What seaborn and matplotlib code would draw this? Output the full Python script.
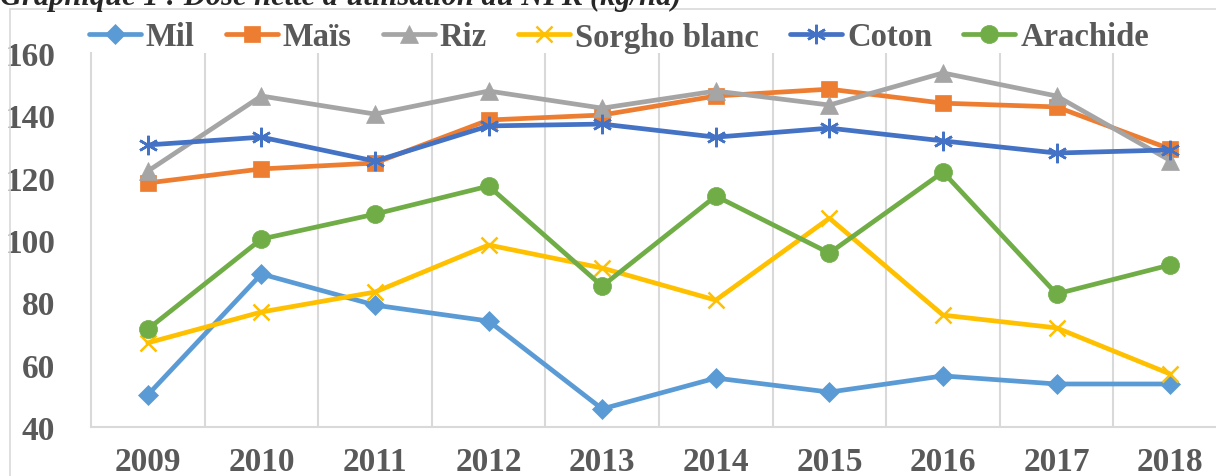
import pandas as pd
import numpy as np
import matplotlib
matplotlib.use("Agg")
import matplotlib.pyplot as plt
import matplotlib.patches as mpatches
import seaborn as sns

years = [2009, 2010, 2011, 2012, 2013, 2014, 2015, 2016, 2017, 2018]
mil = [50.3, 89.1, 79.1, 74.0, 45.8, 55.7, 51.2, 56.4, 53.8, 53.8]
mais = [118.3, 122.8, 124.7, 138.5, 140.1, 146.2, 148.4, 143.9, 142.7, 129.2]
riz = [122.1, 146.2, 140.4, 147.8, 142.3, 147.8, 143.3, 153.6, 146.2, 125.5]
sorgho = [67.0, 76.9, 83.3, 98.4, 91.0, 80.7, 107.0, 75.9, 71.8, 57.0]
coton = [130.5, 133.0, 125.3, 136.6, 137.2, 133.0, 135.9, 131.8, 127.9, 128.9]
arachide = [71.4, 100.3, 108.3, 117.3, 85.2, 114.1, 95.8, 121.8, 82.7, 92.0]

series = ["Mil", "Maïs", "Riz", "Sorgho blanc", "Coton", "Arachide"]
values = [mil, mais, riz, sorgho, coton, arachide]
colors = ["#5B9BD5", "#ED7D31", "#A5A5A5", "#FFC000", "#4472C4", "#70AD47"]
markers = ["D", "s", "^", "x", (6, 2, 0), "o"]
msizes = [10, 11, 13, 12, 14, 13]

df = pd.concat([pd.DataFrame({"Année": years, "Dose": v, "Culture": s})
                for s, v in zip(series, values)], ignore_index=True)

sns.set_style("white")
plt.rcParams['font.family'] = ['Liberation Serif', 'DejaVu Serif']
grey = "#595959"

fig = plt.figure(figsize=(12.16, 4.77), dpi=100)
# plot area runs a little past the right edge, as in the original
ax = fig.add_axes([91 / 1216, 1 - 428 / 477, (1227 - 91) / 1216, (428 - 54) / 477])

for s, c, m, ms in zip(series, colors, markers, msizes):
    thin = m == "x" or isinstance(m, tuple)
    sns.lineplot(data=df[df["Culture"] == s], x="Année", y="Dose", ax=ax,
                 color=c, linewidth=3.4, marker=m, markersize=ms,
                 markeredgecolor=c, markeredgewidth=1.8 if thin else 0.5,
                 label=s, legend=False)

ax.set_xlim(2008.5, 2018.5)
ax.set_ylim(40, 160)
ax.set_yticks(range(40, 161, 20))
ax.set_xticks(years)
ax.set_xticks(np.arange(2009.5, 2018, 1), minor=True)
ax.grid(False)
ax.grid(True, which="minor", axis="x", color="#D9D9D9", linewidth=1.5)
ax.set_xlabel("")
ax.set_ylabel("")
for sp in ["top", "right"]:
    ax.spines[sp].set_visible(False)
ax.spines["left"].set_color("#D9D9D9")
ax.spines["left"].set_linewidth(1.5)
ax.spines["bottom"].set_color("#D9D9D9")
ax.spines["bottom"].set_linewidth(1.5)
ax.tick_params(axis="both", which="both", length=0)
ax.tick_params(axis="y", labelsize=24, labelcolor=grey, pad=26)
ax.tick_params(axis="x", labelsize=24, labelcolor=grey, pad=14)
for lab in ax.get_xticklabels() + ax.get_yticklabels():
    lab.set_fontweight("bold")

handles, labels = ax.get_legend_handles_labels()
fig.legend(handles, labels, loc="center", bbox_to_anchor=(0.509, 1 - 38 / 477),
           ncol=6, frameon=False, handlelength=1.6, columnspacing=0.95,
           handletextpad=0.15, prop={"size": 23.5, "weight": "bold"},
           labelcolor=grey)

fig.text(0.0, 1 - 5 / 477, "Graphique 1 : Dose nette d'utilisation du NPK (kg/ha)",
         fontsize=22, fontweight="bold", fontstyle="italic", va="baseline", ha="left")

fig.patches.append(mpatches.Rectangle((10 / 1216, -0.2), 1.2, 1.2 - 10 / 477,
                                      transform=fig.transFigure, fill=False,
                                      edgecolor="#D9D9D9", linewidth=1.2))

fig.savefig("out.png", dpi=100)
